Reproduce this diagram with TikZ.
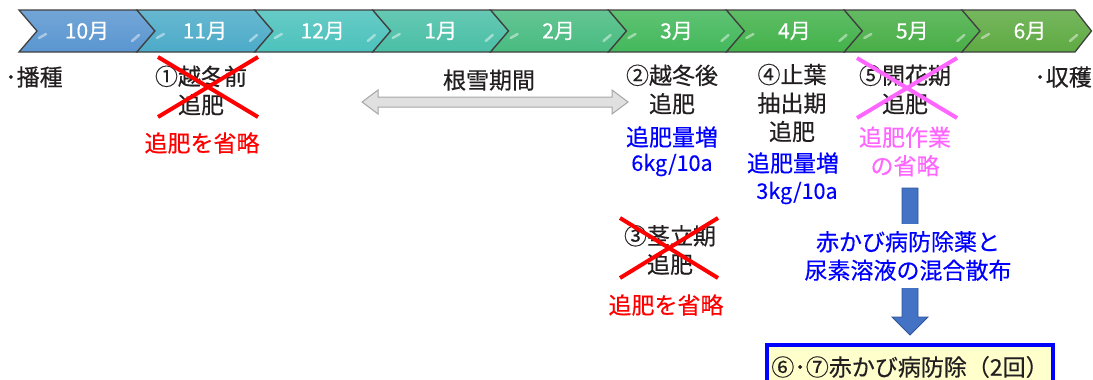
\documentclass[tikz,border=0pt]{standalone}
\usepackage{fontspec}
\setmainfont{Noto Sans CJK JP}[FakeBold=0.4]
\usetikzlibrary{calc}
\definecolor{mA}{HTML}{5A96D0}
\definecolor{mB}{HTML}{4CABC8}
\definecolor{mC}{HTML}{4CC2BC}
\definecolor{mD}{HTML}{4ABFA6}
\definecolor{mE}{HTML}{48BB80}
\definecolor{mF}{HTML}{43B85B}
\definecolor{mG}{HTML}{42B24A}
\definecolor{mH}{HTML}{48AE46}
\definecolor{mI}{HTML}{5EAA42}
\definecolor{chevedge}{HTML}{404040}
\definecolor{txt}{HTML}{231F20}
\definecolor{pinkx}{HTML}{FF66FF}
\definecolor{arrowblue}{HTML}{4472C4}
\definecolor{arrowedge}{HTML}{2F5597}
\definecolor{boxfill}{HTML}{FFFFCC}
\definecolor{grayfill}{HTML}{E0E0E0}
\definecolor{grayedge}{HTML}{A6A6A6}
\begin{document}
\begin{tikzpicture}[x=1pt,y=-1pt,
  lbl/.style={font=\fontsize{23}{28.5}\selectfont, text=txt, align=center, inner sep=0pt},
  redlbl/.style={lbl, text=red},
  bluelbl/.style={lbl, text=blue},
  pinklbl/.style={lbl, text=pinkx},
  amount/.style={lbl, text=blue, font=\fontsize{21.5}{24}\selectfont},
  month/.style={font=\fontsize{21}{24}\selectfont, text=white, inner sep=0pt},
  chev/.style={draw=chevedge, line width=1.3pt, line join=miter},
  gloss/.style={white, opacity=0.45, line width=2.5pt, line cap=round},
  redcross/.style={red, line width=4pt},
  pinkcross/.style={pinkx, line width=4pt},
  blockarrow/.style={fill=arrowblue, draw=arrowedge, line width=0.8pt},
  grayarrow/.style={fill=grayfill, draw=grayedge, line width=1pt},
  probox/.style={draw=blue, line width=4pt, fill=boxfill, minimum width=286pt, minimum height=45pt, inner sep=0pt, font=\fontsize{23}{28}\selectfont, text=txt}
]
\useasboundingbox (0,0) rectangle (1093,380);
\clip (0,0) rectangle (1093,380);

% month chevrons
\foreach \i/\mname/\col in {0/10/mA,1/11/mB,2/12/mC,3/1/mD,4/2/mE,5/3/mF,6/4/mG,7/5/mH} {
  \pgfmathsetmacro{\L}{19+117.9*\i}
  \shadedraw[chev, top color=\col!85!white, bottom color=\col] (\L,10) -- ++(118,0) -- ++(18,21) -- ++(-18,21) -- ++(-118,0) -- ++(18,-21) -- cycle;
  \draw[gloss] (\L+20,38) -- (\L+27,34);
  \draw[gloss] (\L+113,41) -- (\L+120,35);
  \node[month] (mon\i) at (\L+68,31) {{\mname}月};
}
\shadedraw[chev, top color=mI!85!white, bottom color=mI] (962,10) -- (1075,10) -- (1091.5,31) -- (1075,52) -- (962,52) -- (980,31) -- cycle;
\draw[gloss] (982,38) -- (989,34);
\draw[gloss] (1070,41) -- (1077,35);
\node[month] (mon8) at (1030,31) {6月};

% sowing / harvest
\node[lbl, anchor=west] (sow) at (5,77) {･播種};
\node[lbl, anchor=east] (harvest) at (1092,77) {･収穫};

% (1) before winter
\node[lbl] (t1) at (201,90.5) {①越冬前\\追肥};
\draw[redcross] (158,57) -- (258,117);
\draw[redcross] (158,117) -- (258,57);
\node[redlbl] (t1c) at (202,143) {追肥を省略};

% snow period
\node[lbl] (snow) at (489,80) {根雪期間};
\coordinate (snowL) at (362,102);
\coordinate (snowR) at (628,102);
\draw[grayarrow] (snowL) -- ++(16,-12) -- ++(0,7) -- ($(snowR)+(-16,-5)$) -- ++(0,-7) -- (snowR) -- ++(-16,12) -- ++(0,-7) -- ($(snowL)+(16,5)$) -- ++(0,7) -- cycle;

% (2) after winter
\node[lbl] (t2) at (672,89.5) {②越冬後\\追肥};
\node[bluelbl] (t2b) at (672,137) {追肥量増};
\node[amount] (t2c) at (672,165) {6kg/10a};

% (3) stem elongation
\node[lbl] (t3) at (670,250) {③茎立期\\追肥};
\draw[redcross] (620,218) -- (718,278);
\draw[redcross] (620,278) -- (718,218);
\node[redlbl] (t3c) at (666,305) {追肥を省略};

% (4) flag leaf
\node[lbl] (t4) at (792,103) {④止葉\\抽出期\\追肥};
\node[bluelbl] (t4b) at (793,163) {追肥量増};
\node[amount] (t4c) at (797,193) {3kg/10a};

% (5) flowering
\node[lbl] (t5) at (905,89.5) {⑤開花期\\追肥};
\draw[pinkcross] (857,58) -- (957,118);
\draw[pinkcross] (857,118) -- (957,58);
\node[pinklbl] (t5b) at (905,151.5) {追肥作業\\の省略};

% blue block arrow with text and box
\node[probox, anchor=north] (prot) at (910,342.5) {⑥･⑦赤かび病防除（2回）};
\coordinate (arrTop) at (910,188);
\draw[blockarrow] ($(arrTop)+(-8,0)$) -- ($(arrTop)+(8,0)$) -- ($(prot.north)+(8,-25.5)$) -- ($(prot.north)+(18,-25.5)$) -- ($(prot.north)+(0,-7.5)$) -- ($(prot.north)+(-18,-25.5)$) -- ($(prot.north)+(-8,-25.5)$) -- cycle;
\node[bluelbl, fill=white, inner xsep=4pt, inner ysep=7pt] (spray) at (908,256) {赤かび病防除薬と\\尿素溶液の混合散布};
\end{tikzpicture}
\end{document}
